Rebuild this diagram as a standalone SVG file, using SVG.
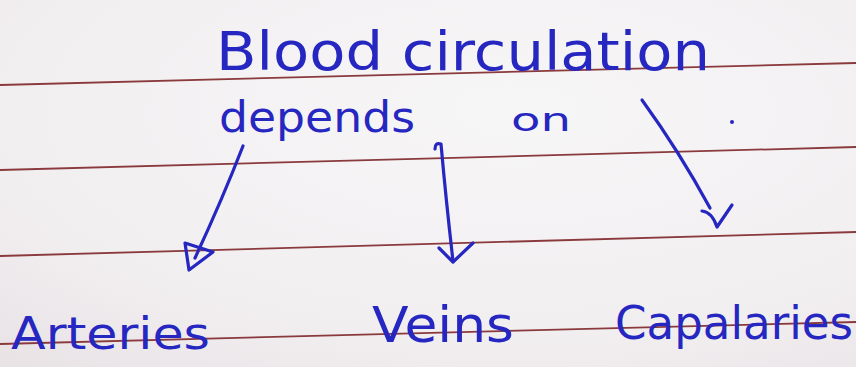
<svg xmlns="http://www.w3.org/2000/svg" width="856" height="367" viewBox="0 0 856 367">
  <defs>
    <radialGradient id="paper" cx="0.6" cy="0.3" r="0.9">
      <stop offset="0" stop-color="#f7f6f7"/>
      <stop offset="0.7" stop-color="#f1eef0"/>
      <stop offset="1" stop-color="#e9e3e6"/>
    </radialGradient>
    <style>
      .rule { stroke: #8a3a3c; stroke-width: 1.8; fill: none; }
      .ink { fill: #2626c0; font-family: "DejaVu Sans", "Liberation Sans", sans-serif; }
      .pen { stroke: #2626c0; stroke-width: 3.2; fill: none; stroke-linecap: round; stroke-linejoin: round; }
    </style>
  </defs>

  <rect x="0" y="0" width="856" height="367" fill="url(#paper)"/>

  <g id="ruled-lines">
    <line class="rule" x1="0" y1="85" x2="856" y2="63"/>
    <line class="rule" x1="0" y1="170" x2="856" y2="147"/>
    <line class="rule" x1="0" y1="256" x2="856" y2="232"/>
    <line class="rule" x1="0" y1="344" x2="856" y2="322"/>
  </g>

  <g id="root">
    <text class="ink" x="216" y="70" font-size="54" textLength="494" lengthAdjust="spacingAndGlyphs">Blood circulation</text>
    <text class="ink" x="219" y="132" font-size="42" textLength="196" lengthAdjust="spacingAndGlyphs">depends</text>
    <text class="ink" x="511" y="131" font-size="32" textLength="60" lengthAdjust="spacingAndGlyphs">on</text>
    <circle cx="732" cy="122" r="2" fill="#2626c0"/>
  </g>

  <g id="connectors">
    <path class="pen" d="M243,146 Q222,200 195,258"/>
    <path class="pen" d="M185,243 L213,252 L189,270 Z"/>
    <path class="pen" d="M435,149 Q435,142 441,144 Q446,200 453,261"/>
    <path class="pen" d="M439,248 L453,262 L473,243"/>
    <path class="pen" d="M642,100 Q679,151 710,208"/>
    <path class="pen" d="M702,211 Q712,212 717,227 L732,205"/>
  </g>

  <g id="arteries">
    <text class="ink" x="11" y="349" font-size="44" textLength="199" lengthAdjust="spacingAndGlyphs">Arteries</text>
  </g>
  <g id="veins">
    <text class="ink" x="372" y="342" font-size="50" textLength="142" lengthAdjust="spacingAndGlyphs">Veins</text>
  </g>
  <g id="capalaries">
    <text class="ink" x="615" y="339" font-size="46" textLength="238" lengthAdjust="spacingAndGlyphs">Capalaries</text>
  </g>
</svg>
